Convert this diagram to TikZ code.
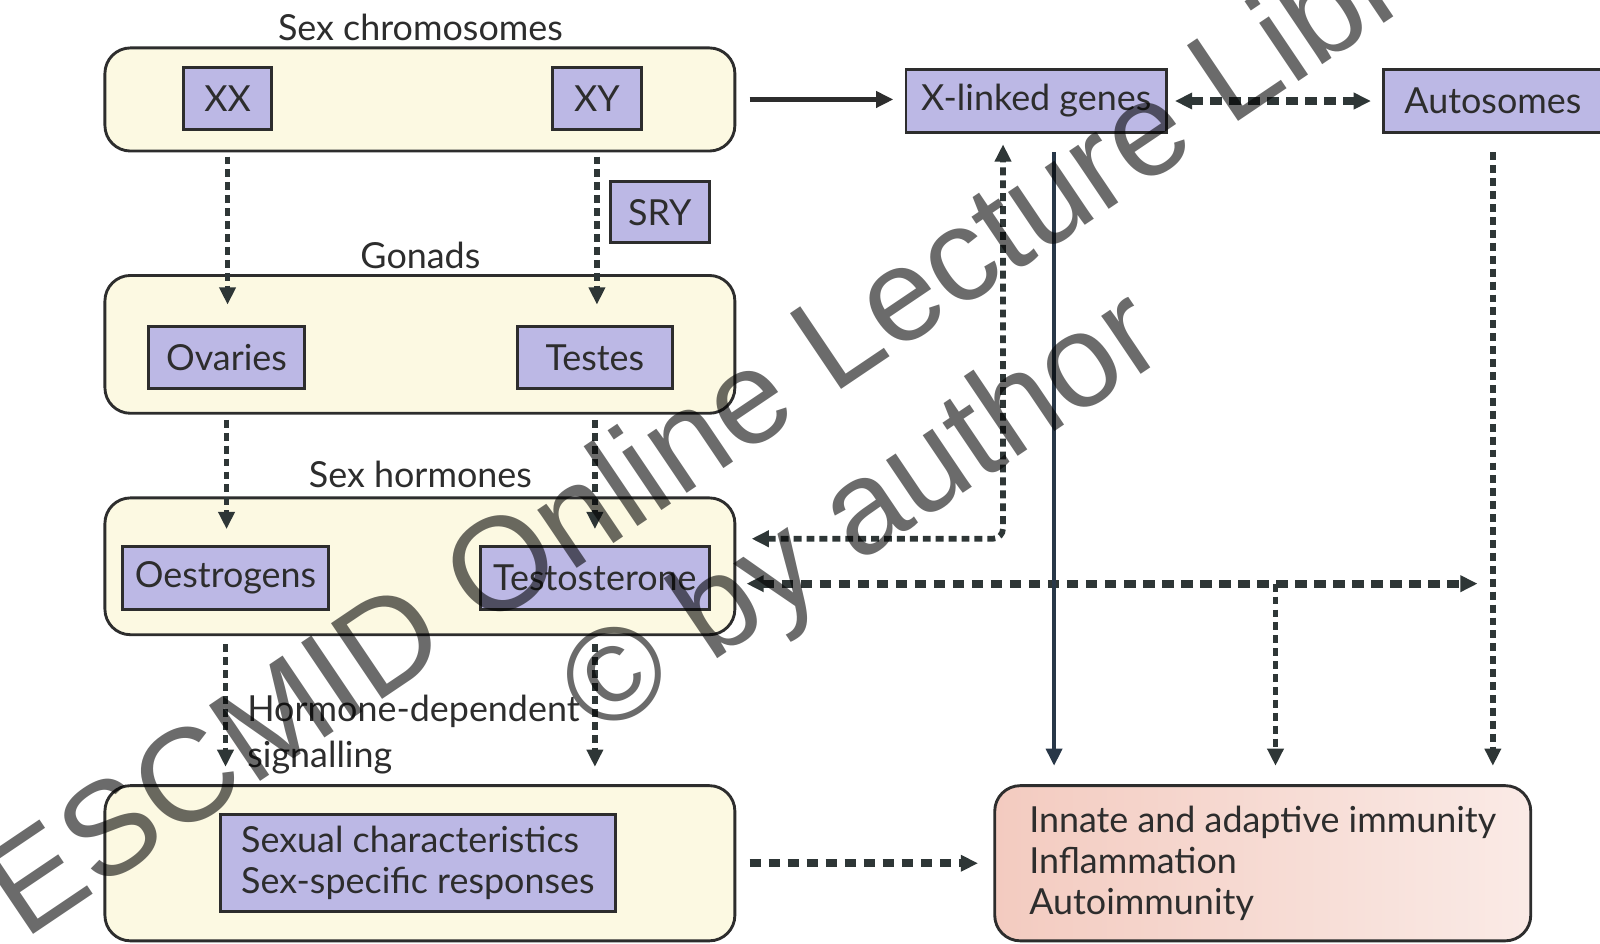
\documentclass[tikz,border=0pt]{standalone}
\usepackage{fontspec}
\setmainfont{Lato}
\newfontfamily\markfont{Liberation Sans}
\usetikzlibrary{arrows.meta,calc}

\definecolor{edge}{RGB}{45,45,45}
\definecolor{cream}{RGB}{252,249,226}
\definecolor{lav}{RGB}{188,184,229}
\definecolor{rose}{RGB}{243,203,192}
\definecolor{linkcol}{RGB}{46,54,54}
\definecolor{navy}{RGB}{40,55,72}
\definecolor{inkcol}{RGB}{45,45,45}

\tikzset{
  >={Triangle[length=4.8pt,width=4.4pt]},
  grp/.style={draw=edge, fill=cream, rounded corners=0.25cm, line width=0.8pt, minimum width=6.17cm},
  gene/.style={draw=edge, fill=lav, line width=0.8pt, minimum height=0.61cm, inner sep=0pt, text=inkcol},
  lbl/.style={text=inkcol},
  dashed link/.style={draw=linkcol, line width=1.6pt, dash pattern=on 2.2pt off 1.4pt},
  heavy/.style={line width=2.2pt, dash pattern=on 3.2pt off 2.1pt},
  markline/.style={rotate=34, text=black, text opacity=0.58, font=\markfont\fontsize{37}{42}\selectfont},
}

\begin{document}
\begin{tikzpicture}[x=0.01cm, y=-0.01cm, font=\fontsize{10}{11.5}\selectfont]
	\useasboundingbox (0,0) rectangle (1568,925);
	\fill[white] (0,0) rectangle (1568,925);

	% left column
	\node[grp, minimum height=1.01cm] (chrom) at (411.5,97.5) {};
	\node[grp, minimum height=1.35cm] (gonad) at (411.5,337.5) {};
	\node[grp, minimum height=1.34cm] (horm) at (411.5,555) {};
	\node[grp, minimum height=1.52cm] (trait) at (411.5,846) {};

	\node[lbl] (sexchr) at (412,27) {Sex chromosomes};
	\node[lbl] (gon) at (412,250) {Gonads};
	\node[lbl] (hor) at (412,465) {Sex hormones};
	\node[lbl, align=left, anchor=west] (signal) at (230,720) {Hormone-dependent\\[1.4pt]signalling};

	\node[gene, minimum width=0.86cm] (xx) at (223,96.5) {XX};
	\node[gene, minimum width=0.87cm] (xy) at (585,96.5) {XY};
	\node[gene, minimum width=0.97cm, minimum height=0.60cm] (sry) at (646.5,208) {SRY};
	\node[gene, minimum width=1.52cm] (ovar) at (222,350.5) {Ovaries};
	\node[gene, minimum width=1.52cm] (test) at (583,350.5) {Testes};
	\node[gene, minimum width=2.02cm] (oest) at (221,566.5) {Oestrogens};
	\node[gene, minimum width=2.24cm] (tost) at (583,566.5) {Testosterone};
	\node[gene, minimum width=3.87cm, minimum height=0.95cm, align=left] (sexr) at (409.5,845.5) {Sexual characteristics\\Sex-specific responses};

	% right column
	\node[gene, minimum width=2.55cm, minimum height=0.62cm] (xlink) at (1015.5,99) {X-linked genes};
	\node[gene, minimum width=2.14cm, minimum height=0.62cm] (auto) at (1463,99) {Autosomes};
	\node[draw=edge, line width=0.8pt, rounded corners=0.25cm, left color=rose, right color=rose!40!white,
		minimum width=5.25cm, minimum height=1.52cm, align=left, text=inkcol] (immu) at (1237.5,846)
		{Innate and adaptive immunity\\Inflammation\\Autoimmunity};
	\coordinate (split) at (1250,572);

	% links
	\draw[->, draw=edge, line width=1.5pt, shorten <=0.13cm, shorten >=0.11cm] (chrom.east) -- (chrom.east -| xlink.west);
	\draw[dashed link, heavy, <->, shorten <=0.07cm, shorten >=0.11cm] (xlink.east) -- (auto.west);

	\draw[dashed link, ->, shorten <=0.04cm, shorten >=0.2cm] (xx |- chrom.south) -- (xx |- ovar.north);
	\draw[dashed link, ->, shorten <=0.04cm, shorten >=0.2cm] (xy |- chrom.south) -- (xy |- test.north);
	\draw[dashed link, ->, shorten <=0.05cm, shorten >=0.16cm] (ovar |- gonad.south) -- (ovar |- oest.north);
	\draw[dashed link, ->, shorten <=0.05cm, shorten >=0.16cm] (test |- gonad.south) -- (test |- tost.north);
	\draw[dashed link, ->, shorten <=0.08cm, shorten >=0.17cm] (oest |- horm.south) -- (oest |- trait.north);
	\draw[dashed link, ->, shorten <=0.08cm, shorten >=0.17cm] (tost |- horm.south) -- (tost |- trait.north);
	\draw[dashed link, heavy, ->, shorten <=0.13cm, shorten >=0.15cm] (trait.east) -- (immu.west);

	\draw[dashed link, <->, rounded corners=0.1cm, shorten <=0.15cm, shorten >=0.1cm]
		([yshift=0.27cm]horm.east) -| ([xshift=-0.325cm]xlink.south);
	\draw[dashed link, heavy, <->, shorten <=0.1cm, shorten >=0.15cm] ([yshift=-0.17cm]horm.east) -- ([yshift=-0.17cm]horm.east -| auto);
	\draw[dashed link, ->, shorten >=0.18cm] (split) -- (split |- immu.north);
	\draw[->, draw=navy, line width=1.3pt, shorten <=0.18cm, shorten >=0.18cm]
		([xshift=0.175cm]xlink.south) -- ([xshift=0.175cm]xlink.south |- immu.north);
	\draw[dashed link, ->, shorten <=0.18cm, shorten >=0.18cm] (auto.south) -- (auto.south |- immu.north);

	% overlay
	\node[markline] (markA) at (761,384) {ESCMID Online Lecture Library};
	\node[markline] (markB) at (848,508) {\copyright{} by author};
\end{tikzpicture}
\end{document}
